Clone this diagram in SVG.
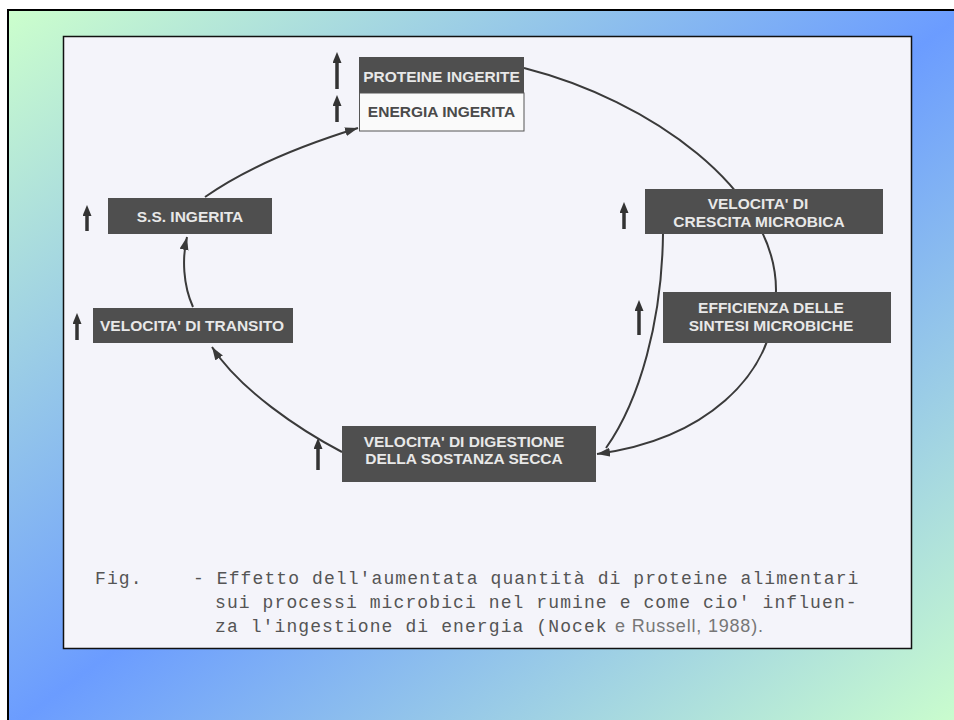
<svg xmlns="http://www.w3.org/2000/svg" width="954" height="720" viewBox="0 0 954 720">
  <defs>
    <!-- slide fill: green corners, blue along the anti-diagonal -->
    <linearGradient id="slideFill" x1="0" y1="0" x2="1" y2="1">
      <stop offset="0" stop-color="#ccffcc"/>
      <stop offset="0.5" stop-color="#6b9cff"/>
      <stop offset="1" stop-color="#ccffcc"/>
    </linearGradient>
    <marker id="conHead" markerUnits="userSpaceOnUse" markerWidth="14" markerHeight="10" refX="13" refY="4.5" orient="auto">
      <path d="M0,0 L13,4.5 L0,9 z" fill="#3a3a3a"/>
    </marker>
    <marker id="upHead" markerUnits="userSpaceOnUse" markerWidth="12" markerHeight="10" refX="5" refY="4.5" orient="auto">
      <path d="M0,0 L11,4.5 L0,9 z" fill="#333"/>
    </marker>
    <style>
      .box { fill: #4f4f4f; }
      .boxLight { fill: #fafafa; stroke: #555; stroke-width: 1; }
      .lbl { font-family: "Liberation Sans", Arial, sans-serif; font-weight: bold; font-size: 15.5px; fill: #e8e8e8; text-anchor: middle; }
      .lblDark { fill: #4a4a4a; }
      .con { fill: none; stroke: #3a3a3a; stroke-width: 2; marker-end: url(#conHead); }
      .conPlain { fill: none; stroke: #3a3a3a; stroke-width: 2; }
      .up { stroke: #333; stroke-width: 3.5; marker-end: url(#upHead); }
      .cap { font-family: "Liberation Mono", "DejaVu Sans Mono", monospace; font-size: 18px; letter-spacing: 1.1px; fill: #555; }
      .capRef { font-family: "Liberation Sans Narrow", "Liberation Sans", Arial, sans-serif; font-size: 18px; fill: #777; }
    </style>
  </defs>

  <!-- page -->
  <rect x="0" y="0" width="954" height="720" fill="#ffffff"/>
  <rect x="8" y="10" width="960" height="720" fill="url(#slideFill)" stroke="#000" stroke-width="2"/>

  <!-- figure panel -->
  <rect x="63.5" y="36.5" width="848" height="612" fill="#f4f4fa" stroke="#111" stroke-width="1.5"/>

  <!-- connectors -->
  <g id="connectors">
    <path class="con" d="M193,307 C183,285 182,258 187,237"/>
    <path class="con" d="M205,197 C242,171 293,148 358,128"/>
    <path class="con" d="M524,68 C650,100 776,190 776,290 C776,380 700,440 597,454"/>
    <path class="conPlain" d="M663,234 C662,320 640,400 606,448"/>
    <path class="con" d="M342,452 C300,430 240,390 212,347"/>
  </g>

  <!-- nodes -->
  <g id="proteine">
    <rect class="box" x="359" y="57" width="165" height="36"/>
    <text class="lbl" x="441.5" y="82">PROTEINE INGERITE</text>
    <line class="up" x1="337" y1="89" x2="337" y2="58"/>
  </g>
  <g id="energia">
    <rect class="boxLight" x="359.5" y="93" width="164.5" height="38"/>
    <text class="lbl lblDark" x="441.5" y="117">ENERGIA INGERITA</text>
    <line class="up" x1="337" y1="122" x2="337" y2="101"/>
  </g>
  <g id="ss-ingerita">
    <rect class="box" x="108" y="198" width="164" height="36"/>
    <text class="lbl" x="190" y="222">S.S. INGERITA</text>
    <line class="up" x1="87" y1="231" x2="87" y2="211"/>
  </g>
  <g id="transito">
    <rect class="box" x="93" y="308" width="200" height="35"/>
    <text class="lbl" x="192" y="331">VELOCITA' DI TRANSITO</text>
    <line class="up" x1="77" y1="340" x2="77" y2="319"/>
  </g>
  <g id="crescita">
    <rect class="box" x="645" y="189" width="238" height="45"/>
    <text class="lbl" x="758" y="209">VELOCITA' DI</text>
    <text class="lbl" x="759" y="227">CRESCITA MICROBICA</text>
    <line class="up" x1="624" y1="229" x2="624" y2="208"/>
  </g>
  <g id="efficienza">
    <rect class="box" x="663" y="292" width="228" height="51"/>
    <text class="lbl" x="771" y="313">EFFICIENZA DELLE</text>
    <text class="lbl" x="771" y="331">SINTESI MICROBICHE</text>
    <line class="up" x1="639" y1="335" x2="639" y2="306"/>
  </g>
  <g id="digestione">
    <rect class="box" x="342" y="426" width="254" height="56"/>
    <text class="lbl" x="464" y="447">VELOCITA' DI DIGESTIONE</text>
    <text class="lbl" x="464" y="464">DELLA SOSTANZA SECCA</text>
    <line class="up" x1="318" y1="470" x2="318" y2="444"/>
  </g>

  <!-- caption -->
  <g id="caption">
    <text class="cap" x="95" y="584">Fig.</text>
    <text class="cap" x="193" y="584">- Effetto dell'aumentata quantità di proteine alimentari</text>
    <text class="cap" x="215" y="608">sui processi microbici nel rumine e come cio' influen-</text>
    <text class="cap" x="215" y="632">za l'ingestione di energia (Nocek</text>
    <text class="capRef" x="615" y="632" textLength="148" lengthAdjust="spacing">e Russell, 1988).</text>
  </g>
</svg>
